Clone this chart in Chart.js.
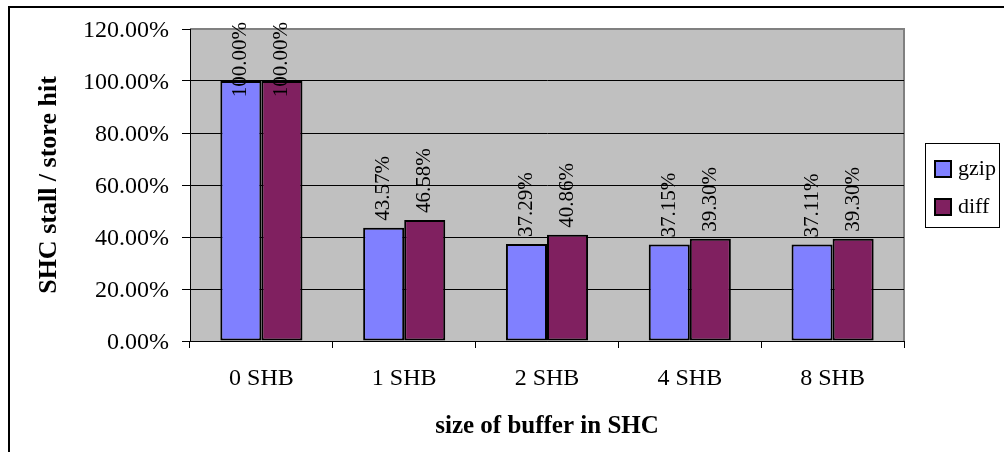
<!DOCTYPE html>
<html>
<head>
<meta charset="utf-8">
<script src="https://cdn.jsdelivr.net/npm/chart.js@4/dist/chart.umd.min.js"></script>
<style>
  html, body { margin: 0; padding: 0; background: #ffffff; }
  #wrap { width: 1004px; height: 452px; position: relative; }
</style>
</head>
<body>
<div id="wrap"><canvas id="c" width="1004" height="452"></canvas></div>
<script>
// Stall rate per store hit, by SHC buffer size
const categories = ['0 SHB', '1 SHB', '2 SHB', '4 SHB', '8 SHB'];
const gzipValues = [100.00, 43.57, 37.29, 37.15, 37.11];
const diffValues = [100.00, 46.58, 40.86, 39.30, 39.30];
const seriesNames = ['gzip', 'diff'];
const seriesColors = ['#8080FF', '#802060'];
const yTicks = [0, 20, 40, 60, 80, 100, 120];

const FONT = "'Liberation Serif', 'Times New Roman', serif";
const pct = v => Number(v).toFixed(2) + '%';

// Gray plot area with a soft frame on top/right
const plotBackground = {
  id: 'plotBackground',
  beforeDraw(chart) {
    const { ctx, chartArea: a } = chart;
    ctx.save();
    ctx.fillStyle = '#C0C0C0';
    ctx.fillRect(a.left, a.top, a.right - a.left, a.bottom - a.top);
    ctx.strokeStyle = '#808080';
    ctx.lineWidth = 2;
    ctx.beginPath();
    ctx.moveTo(a.left, a.top);
    ctx.lineTo(a.right, a.top);
    ctx.lineTo(a.right, a.bottom);
    ctx.stroke();
    ctx.restore();
  }
};

// Vertical value labels above each bar
const valueLabels = {
  id: 'valueLabels',
  afterDatasetsDraw(chart) {
    const { ctx, chartArea: a } = chart;
    ctx.save();
    ctx.font = '21px ' + FONT;
    ctx.fillStyle = '#000';
    ctx.textAlign = 'left';
    ctx.textBaseline = 'middle';
    chart.data.datasets.forEach((ds, di) => {
      const meta = chart.getDatasetMeta(di);
      meta.data.forEach((bar, i) => {
        const text = pct(ds.data[i]);
        const w = ctx.measureText(text).width;
        let start = bar.y - 7;
        const minEnd = a.top - 7;
        if (start - w < minEnd) start = minEnd + w;
        ctx.save();
        ctx.translate(bar.x, start);
        ctx.rotate(-Math.PI / 2);
        ctx.fillText(text, 0, 0);
        ctx.restore();
      });
    });
    ctx.restore();
  }
};

// Boxed legend to the right of the plot
const boxedLegend = {
  id: 'boxedLegend',
  afterDraw(chart) {
    const { ctx } = chart;
    const bx = 925, by = 143, bw = 74, bh = 84;
    ctx.save();
    ctx.fillStyle = '#fff';
    ctx.fillRect(bx, by, bw, bh);
    ctx.strokeStyle = '#000';
    ctx.lineWidth = 1;
    ctx.strokeRect(bx + 0.5, by + 0.5, bw, bh);
    ctx.font = '22px ' + FONT;
    ctx.textAlign = 'left';
    ctx.textBaseline = 'middle';
    chart.data.datasets.forEach((ds, i) => {
      const cy = by + 26 + i * 38;
      ctx.fillStyle = ds.backgroundColor;
      ctx.fillRect(935, cy - 8, 16, 16);
      ctx.lineWidth = 2;
      ctx.strokeStyle = '#000';
      ctx.strokeRect(935, cy - 8, 16, 16);
      ctx.fillStyle = '#000';
      ctx.fillText(ds.label, 958, cy);
    });
    ctx.restore();
  }
};

// Outer frame of the chart object
const outerFrame = {
  id: 'outerFrame',
  afterDraw(chart) {
    const { ctx } = chart;
    ctx.save();
    ctx.strokeStyle = '#000';
    ctx.lineWidth = 2;
    ctx.strokeRect(9, 7, 1010, 460);
    ctx.restore();
  }
};

new Chart(document.getElementById('c'), {
  type: 'bar',
  data: {
    labels: categories,
    datasets: [
      { label: seriesNames[0], data: gzipValues, backgroundColor: seriesColors[0],
        borderColor: '#000', borderWidth: 2, borderSkipped: false },
      { label: seriesNames[1], data: diffValues, backgroundColor: seriesColors[1],
        borderColor: '#000', borderWidth: 2, borderSkipped: false }
    ]
  },
  options: {
    responsive: false,
    animation: false,
    layout: { padding: { top: 29, right: 100, left: 0, bottom: 0 } },
    datasets: { bar: { categoryPercentage: 0.575, barPercentage: 1.0 } },
    plugins: { legend: { display: false }, tooltip: { enabled: false } },
    scales: {
      x: {
        grid: { drawOnChartArea: false, drawTicks: true, tickLength: 7, color: '#000', offset: true },
        border: { display: true, color: '#000', width: 1 },
        ticks: { font: { family: FONT, size: 24 }, color: '#000', padding: 16, maxRotation: 0, autoSkip: false },
        title: { display: true, text: 'size of buffer in SHC', color: '#000',
                 font: { family: FONT, size: 25, weight: 'bold' }, padding: { top: 0, bottom: 10 } },
        afterFit(s) { s.height = 111; }
      },
      y: {
        min: 0, max: 120,
        afterBuildTicks(s) { s.ticks = yTicks.map(v => ({ value: v })); },
        grid: { color: c => (c.tick && c.tick.value === 120 ? '#808080' : '#000'),
                tickColor: '#000', tickLength: 8, lineWidth: 1 },
        border: { display: true, color: '#000', width: 1 },
        ticks: { callback: v => pct(v), font: { family: FONT, size: 24 }, color: '#000',
                 padding: 13, labelOffset: 2 },
        title: { display: true, text: 'SHC stall / store hit', color: '#000',
                 font: { family: FONT, size: 26, weight: 'bold' }, padding: { top: 34, bottom: 0 } },
        afterFit(s) { s.width = 190; }
      }
    }
  },
  plugins: [plotBackground, valueLabels, boxedLegend, outerFrame]
});
</script>
</body>
</html>
